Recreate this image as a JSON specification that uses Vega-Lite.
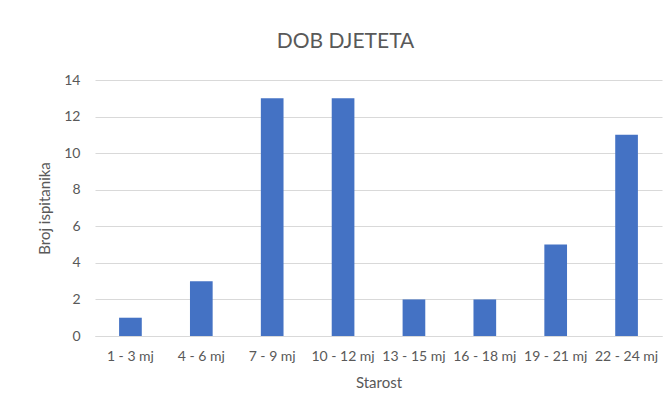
{
  "$schema": "https://vega.github.io/schema/vega-lite/v6.json",
  "width": 567,
  "height": 256,
  "autosize": "none",
  "padding": {"left": 95, "top": 80, "right": 9, "bottom": 78},
  "background": "white",
  "title": {
    "text": "DOB DJETETA",
    "font": "Lato",
    "fontSize": 21,
    "fontWeight": "normal",
    "color": "#595959",
    "anchor": "middle",
    "dx": -33,
    "offset": 21
  },
  "data": {
    "values": [
      {"dob": "1 - 3 mj", "broj": 1},
      {"dob": "4 - 6 mj", "broj": 3},
      {"dob": "7 - 9 mj", "broj": 13},
      {"dob": "10 - 12 mj", "broj": 13},
      {"dob": "13 - 15 mj", "broj": 2},
      {"dob": "16 - 18 mj", "broj": 2},
      {"dob": "19 - 21 mj", "broj": 5},
      {"dob": "22 - 24 mj", "broj": 11}
    ]
  },
  "mark": {"type": "bar", "color": "#4472C4"},
  "encoding": {
    "x": {
      "field": "dob",
      "type": "nominal",
      "sort": null,
      "scale": {"paddingInner": 0.68, "paddingOuter": 0.34},
      "axis": {
        "title": "Starost",
        "labelAngle": 0,
        "labelFont": "Lato",
        "labelFontSize": 14,
        "labelColor": "#595959",
        "labelPadding": 13,
        "labelOverlap": false,
        "ticks": false,
        "domainColor": "#d9d9d9",
        "domainWidth": 1,
        "titleFont": "Lato",
        "titleFontSize": 15,
        "titleFontWeight": "normal",
        "titleColor": "#595959",
        "titlePadding": 12
      }
    },
    "y": {
      "field": "broj",
      "type": "quantitative",
      "scale": {"domain": [0, 14]},
      "axis": {
        "title": "Broj ispitanika",
        "values": [0, 2, 4, 6, 8, 10, 12, 14],
        "domain": false,
        "ticks": false,
        "gridColor": "#d9d9d9",
        "labelFont": "Lato",
        "labelFontSize": 14,
        "labelColor": "#595959",
        "labelPadding": 15,
        "titleFont": "Lato",
        "titleFontSize": 15,
        "titleFontWeight": "normal",
        "titleColor": "#595959",
        "titlePadding": 11
      }
    }
  },
  "config": {"view": {"stroke": null}}
}
